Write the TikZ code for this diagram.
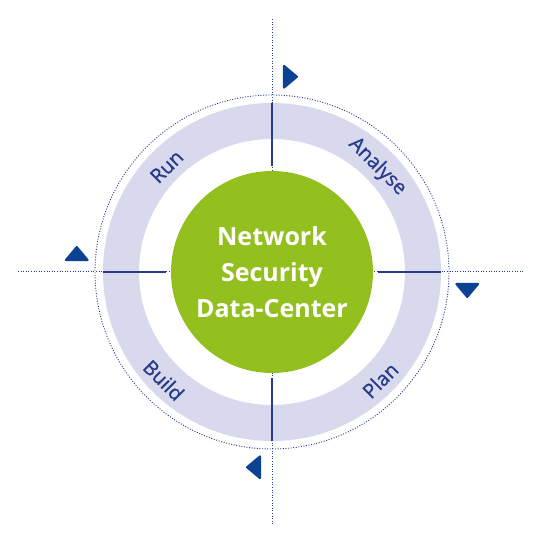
\documentclass[tikz,border=0pt]{standalone}
\usepackage{fontspec}
\setmainfont{Open Sans}
\usetikzlibrary{shapes.geometric, positioning}
\definecolor{cyclenavy}{RGB}{40, 58, 140}
\definecolor{arrowblue}{RGB}{12, 66, 146}
\definecolor{bandlilac}{RGB}{216, 217, 236}
\definecolor{hubgreen}{RGB}{147, 192, 31}

\begin{document}
\begin{tikzpicture}[x=1pt, y=1pt,
    hub/.style={circle, fill=hubgreen, minimum size=202pt, inner sep=0pt, align=center, text=white, font=\fontsize{25}{36}\selectfont\bfseries},
    axis/.style={cyclenavy, line width=1pt, dash pattern=on 1pt off 1.6pt},
    spoke/.style={cyclenavy, line width=1.3pt},
    turn/.style={isosceles triangle, isosceles triangle apex angle=80, fill=arrowblue, draw=arrowblue, line join=round, line width=2pt, inner sep=0pt, minimum height=13pt, minimum width=17pt},
    phase/.style={text=cyclenavy, font=\fontsize{20}{22}\selectfont\addfontfeature{FakeBold=0.9}}]

    \useasboundingbox (-272,-271) rectangle (271,272);

    % Band and orbit
    \fill[bandlilac, even odd rule] (0,0) circle (169) (0,0) circle (133);
    \draw[axis, line width=0.9pt] (0,0) circle (177);

    % Axes
    \coordinate (north) at (0,253);
    \coordinate (south) at (0,-254);
    \coordinate (west) at (-254,0);
    \coordinate (east) at (253,0);
    \draw[axis] (north) -- (south);
    \draw[axis] (west) -- (east);

    % Hub
    \node[hub] (hub) at (0,0) {Network\\Security\\Data-Center};

    % Spokes
    \foreach \a in {0,90,180,270} {
        \coordinate (in\a) at (\a:106);
        \coordinate (out\a) at (\a:169);
        \draw[spoke] (in\a) -- (out\a);
    }

    % Direction marks
    \foreach \a in {0,90,180,270} {
        \node[turn, shape border rotate=\a-90] (turn\a) at (\a-5:196) {};
    }

    % Phases
    \node[phase, rotate=-45] (analyse) at (45:149) {Analyse};
    \node[phase, rotate=45] (plan) at (-45:153) {Plan};
    \node[phase, rotate=-45] (build) at (-135:153) {Build};
    \node[phase, rotate=45] (run) at (135:149) {Run};
\end{tikzpicture}
\end{document}
